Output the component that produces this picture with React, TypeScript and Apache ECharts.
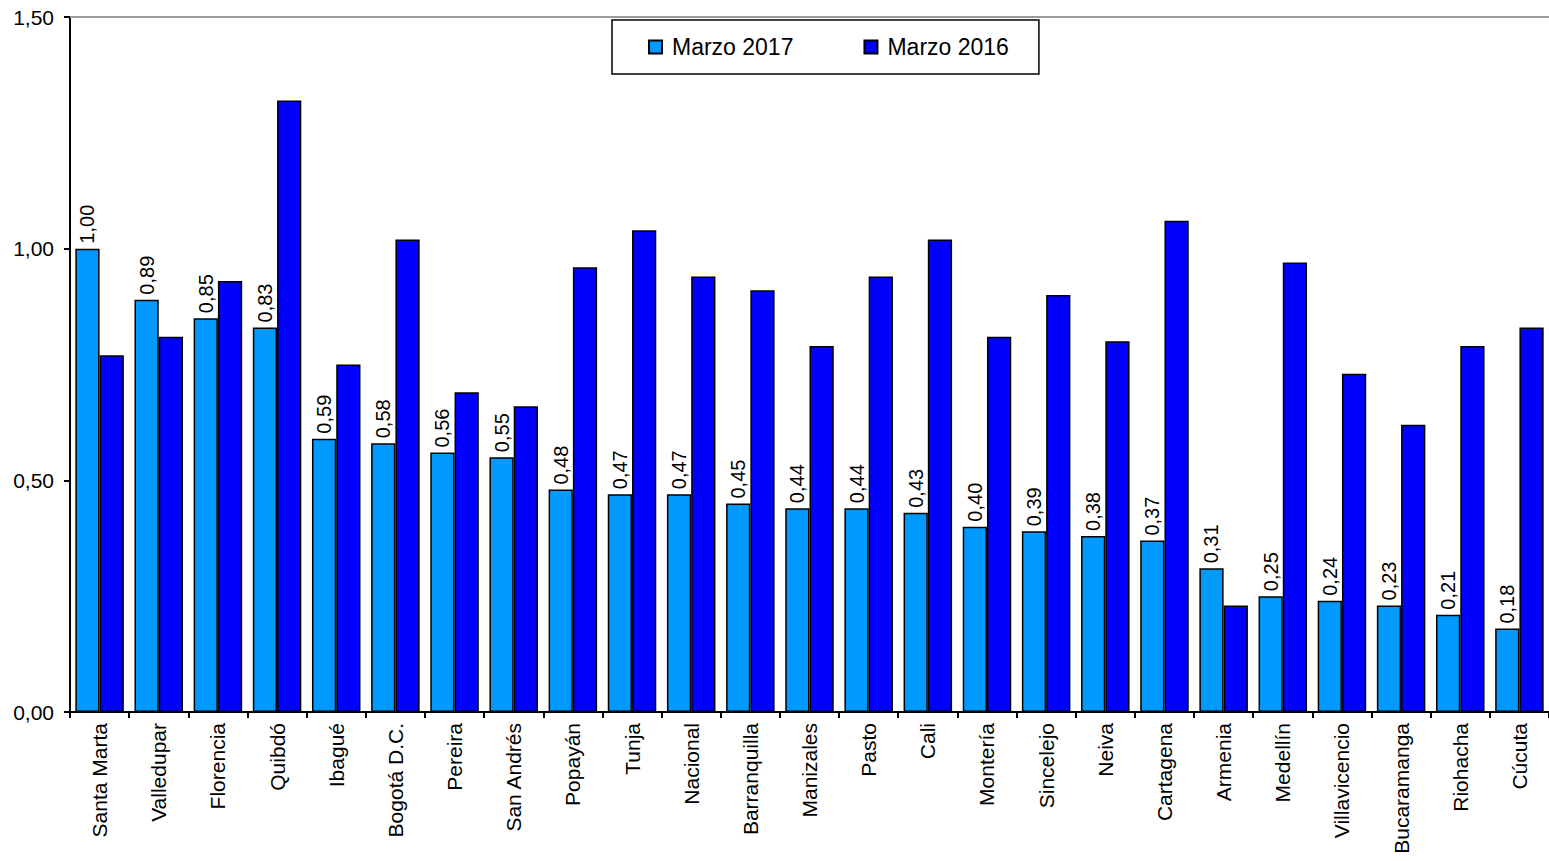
import React, { useEffect, useRef } from "react";
import * as echarts from "echarts";

const categories = [
  "Santa Marta", "Valledupar", "Florencia", "Quibdó", "Ibagué", "Bogotá D.C.",
  "Pereira", "San Andrés", "Popayán", "Tunja", "Nacional", "Barranquilla",
  "Manizales", "Pasto", "Cali", "Montería", "Sincelejo", "Neiva", "Cartagena",
  "Armenia", "Medellín", "Villavicencio", "Bucaramanga", "Riohacha", "Cúcuta",
];
const marzo2017 = [
  1.0, 0.89, 0.85, 0.83, 0.59, 0.58, 0.56, 0.55, 0.48, 0.47, 0.47, 0.45, 0.44,
  0.44, 0.43, 0.4, 0.39, 0.38, 0.37, 0.31, 0.25, 0.24, 0.23, 0.21, 0.18,
];
const marzo2016 = [
  0.77, 0.81, 0.93, 1.32, 0.75, 1.02, 0.69, 0.66, 0.96, 1.04, 0.94, 0.91, 0.79,
  0.94, 1.02, 0.81, 0.9, 0.8, 1.06, 0.23, 0.97, 0.73, 0.62, 0.79, 0.83,
];
const seriesNames = ["Marzo 2017", "Marzo 2016"];

const fmt = (v: number) => v.toFixed(2).replace(".", ",");

export default function App() {
  const ref = useRef<HTMLDivElement>(null);
  useEffect(() => {
    if (!ref.current) return;
    const chart = echarts.init(ref.current, null, { renderer: "svg" });
    const font = "Liberation Sans, Arial, sans-serif";
    chart.setOption({
      animation: false,
      textStyle: { fontFamily: font },
      grid: { left: 70, top: 17, right: 0, bottom: 149, containLabel: false },
      legend: {
        top: 20,
        left: 612,
        padding: [15, 30, 15, 36],
        itemGap: 70,
        borderColor: "#000",
        borderWidth: 1.5,
        itemWidth: 13,
        itemHeight: 13,
        icon: "rect",
        textStyle: {
          fontSize: 23,
          lineHeight: 24,
          color: "#000",
          fontFamily: font,
          padding: [0, 0, 0, 5],
        },
        data: seriesNames,
      },
      xAxis: [
        {
          type: "category",
          data: categories,
          position: "bottom",
          axisLine: { lineStyle: { color: "#000", width: 2 } },
          axisTick: { show: true, alignWithLabel: false, length: 6, lineStyle: { color: "#000", width: 2 } },
          axisLabel: {
            rotate: 90,
            fontSize: 21,
            color: "#000",
            margin: 11,
            interval: 0,
            fontFamily: font,
          },
        },
        {
          type: "category",
          data: categories,
          position: "top",
          axisLine: { lineStyle: { color: "#999", width: 2 } },
          axisTick: { show: false },
          axisLabel: { show: false },
        },
      ],
      yAxis: {
        type: "value",
        min: 0,
        max: 1.5,
        interval: 0.5,
        axisLine: { show: true, lineStyle: { color: "#000", width: 2 } },
        axisTick: { show: true, length: 6, lineStyle: { color: "#000", width: 2 } },
        splitLine: { show: false },
        axisLabel: {
          fontSize: 21,
          color: "#000",
          margin: 16,
          formatter: (v: number) => fmt(v),
          fontFamily: font,
        },
      },
      series: [
        {
          name: seriesNames[0],
          type: "bar",
          data: marzo2017,
          barGap: "0%",
          barCategoryGap: "18%",
          itemStyle: { color: "#0099FF", borderColor: "#000", borderWidth: 1.5 },
          label: {
            show: true,
            position: "top",
            rotate: 90,
            align: "left",
            verticalAlign: "middle",
            distance: 5,
            fontSize: 20,
            color: "#000",
            fontFamily: font,
            formatter: (p: any) => fmt(p.value),
          },
        },
        {
          name: seriesNames[1],
          type: "bar",
          data: marzo2016,
          barGap: "0%",
          barCategoryGap: "18%",
          itemStyle: { color: "#0000FF", borderColor: "#000", borderWidth: 1.5 },
        },
      ],
    });
    return () => chart.dispose();
  }, []);
  return (
    <div
      ref={ref}
      style={{ position: "fixed", left: 0, top: 0, width: 1549, height: 861, background: "#fff" }}
    />
  );
}
